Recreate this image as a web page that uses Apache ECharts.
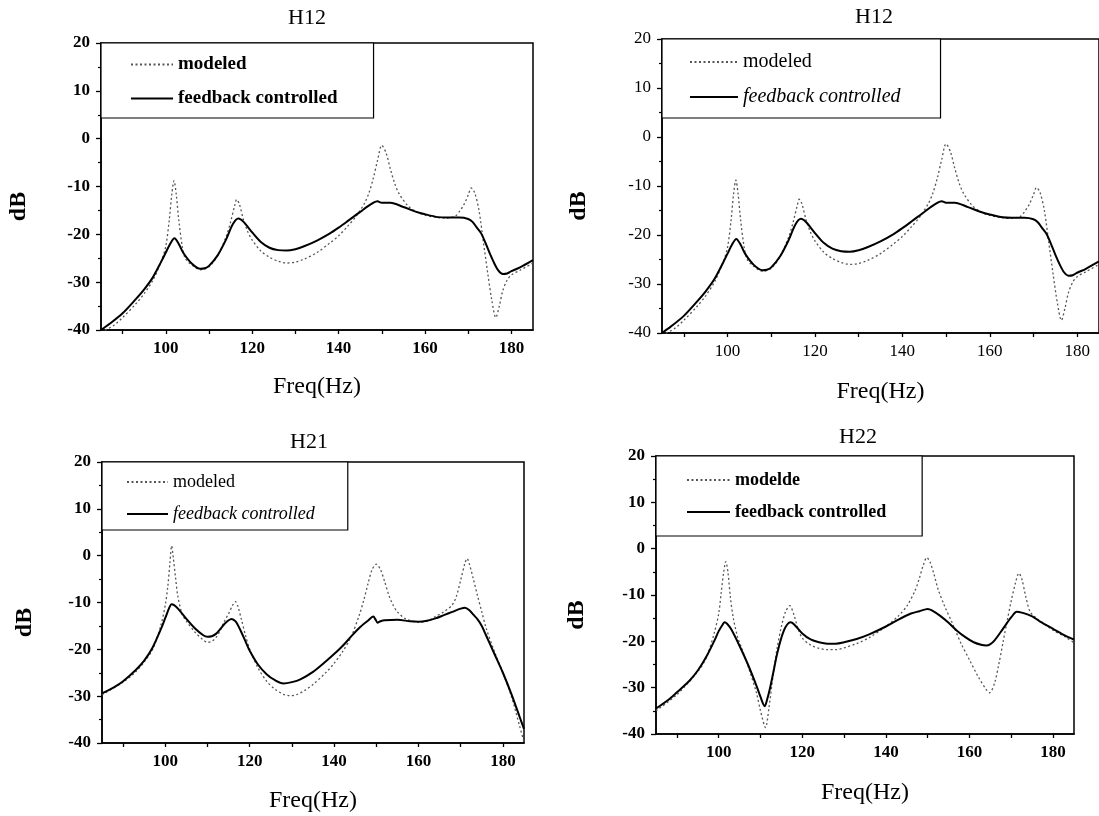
<!DOCTYPE html>
<html>
<head>
<meta charset="utf-8">
<script src="https://cdn.jsdelivr.net/npm/echarts@6/dist/echarts.min.js"></script>
<style>
  html, body { margin: 0; padding: 0; background: #fff; }
  #chart { width: 1099px; height: 816px; }
</style>
</head>
<body>
<div id="chart"></div>
<script>
// Frequency response magnitudes (dB) versus frequency (Hz), as [Hz, dB] pairs.
const xLabelTicks = [100, 120, 140, 160, 180];
const xTickMarks = [90, 100, 110, 120, 130, 140, 150, 160, 170, 180];
const panelTitles = ['H12', 'H12', 'H21', 'H22'];
const modeledNames = ['modeled', 'modeled', 'modeled', 'modelde'];
const feedbackName = 'feedback controlled';

const h12Feedback = [[85,-40],[87,-38.7],[90,-36.5],[93,-33.6],[95,-31.5],[97,-29],[99,-25.6],[100,-23.8],[101,-22],[102,-20.8],[103,-22],[104,-23.8],[106,-26.1],[108,-27.2],[109,-27.1],[110,-26.6],[112,-24.4],[114,-21],[115.5,-17.9],[116.8,-16.7],[118,-17.4],[120,-19.6],[122,-21.6],[124,-22.8],[126,-23.3],[128,-23.4],[130,-23.1],[132,-22.5],[135,-21.3],[138,-19.8],[140,-18.6],[142,-17.3],[145,-15.3],[147.5,-13.7],[149,-13.1],[150,-13.4],[152,-13.4],[155,-14.3],[158,-15.3],[160,-15.8],[163,-16.4],[165,-16.5],[168,-16.5],[170,-16.8],[171,-17.4],[172,-18.6],[173,-19.8],[174,-21.8],[175,-24],[176,-26],[177,-27.6],[178,-28.3],[179,-28.2],[180,-27.7],[182,-26.9],[185,-25.4]];

const h12Modeled = [[85,-40.5],[88,-39],[90,-37.4],[93,-34.6],[95,-32.4],[97,-29.6],[99,-25.5],[100,-22.5],[100.8,-17],[101.4,-11.5],[101.9,-8.8],[102.4,-11.5],[103,-17],[103.8,-22.5],[104.5,-25],[106,-26.4],[108,-27.4],[110,-26.8],[112,-24.4],[114,-20.4],[115,-17.4],[116,-13.8],[116.4,-12.7],[117,-13.6],[118,-17],[119,-19.5],[120,-21.2],[122,-23.5],[124,-24.8],[126,-25.6],[128,-26],[130,-25.8],[132,-25.2],[135,-23.8],[138,-21.8],[140,-20.3],[142,-18.4],[144,-16.3],[146,-13.5],[147,-11.4],[148,-8.4],[149,-4.6],[150,-1.4],[151,-3],[152,-6.4],[153,-9.4],[154,-11.5],[156,-14],[158,-15.3],[160,-16],[163,-16.5],[165,-16.6],[167,-16.2],[168,-15.2],[169,-13.8],[170,-11.8],[170.7,-10.3],[171.5,-11.3],[172.5,-15],[173.5,-21.5],[174.5,-28],[175.5,-34],[176.4,-37.4],[177.2,-35],[178,-31.8],[179,-29.6],[180,-28.5],[182,-27.5],[185,-26]];

const h21Feedback = [[85,-29.4],[88,-28],[90,-26.8],[93,-24.4],[95,-22.4],[97,-19.6],[99,-15.6],[100,-13.3],[101,-11],[101.5,-10.4],[102,-10.5],[103,-11.3],[105,-13.5],[107,-15.5],[109,-17],[110,-17.3],[111,-17.2],[112,-16.7],[113,-15.7],[114,-14.6],[115,-13.8],[115.7,-13.5],[116.5,-13.9],[117,-14.5],[118,-16.3],[119,-18.3],[120,-20.3],[122,-23.3],[124,-25.3],[126,-26.6],[128,-27.3],[130,-27],[132,-26.4],[135,-24.8],[138,-22.6],[140,-21],[142,-19.3],[144,-17.3],[146,-15.4],[148,-13.9],[149.3,-13],[149.8,-13.6],[150.3,-14.3],[151,-14],[152,-13.8],[155,-13.7],[158,-14],[160,-14.1],[162,-13.9],[164,-13.4],[166,-12.7],[168,-12],[170,-11.3],[171,-11.1],[172,-11.6],[173,-12.6],[174,-13.6],[175,-15],[176,-17],[178,-21],[180,-25],[182,-29.5],[184,-34.5],[185,-37]];

const h21Modeled = [[85,-29.7],[90,-27],[93,-24.8],[95,-22.7],[97,-20],[99,-14.7],[100,-10.5],[100.6,-6.5],[101.1,-1.5],[101.5,2.1],[101.9,-0.5],[102.4,-4.5],[103,-8.8],[104,-12.5],[105,-14],[107,-16.3],[109,-18],[110,-18.5],[111,-18.3],[112,-17.5],[113,-16],[114,-14],[115,-12.4],[116,-10.5],[116.6,-9.8],[117.2,-10.8],[118,-13.5],[119,-17],[120,-20],[122,-24],[124,-26.8],[126,-28.5],[128,-29.6],[129.5,-29.9],[131,-29.7],[133,-28.8],[135,-27.5],[138,-25],[140,-23],[142,-20.5],[144,-17.4],[146,-12.6],[147,-9.6],[148,-6.1],[149,-3],[150,-1.8],[151,-3],[152,-5.6],[153,-8.5],[154,-10.6],[155,-12],[157,-13.5],[160,-14.2],[162,-14],[164,-13],[166,-12],[168,-10.5],[169,-8.6],[170,-5.2],[171,-1.6],[171.5,-0.6],[172,-1.6],[173,-5],[174,-8.6],[175,-12],[176,-15.4],[178,-20.5],[180,-25],[182,-30],[184,-36.5],[185,-39.8]];

const h22Feedback = [[85,-34.5],[88,-32.6],[90,-31],[93,-28.5],[95,-26.3],[97,-23.4],[99,-19.8],[100,-17.8],[101,-16.3],[101.4,-15.9],[102,-16.2],[103,-17.4],[105,-21],[107,-25],[109,-29.5],[110,-32],[111,-34],[111.6,-32.5],[112.3,-30],[113,-27],[114,-22.6],[115,-19.2],[116,-16.9],[117.2,-15.9],[118,-16.3],[120,-18.3],[122,-19.6],[124,-20.2],[126,-20.5],[128,-20.5],[130,-20.2],[133,-19.5],[136,-18.5],[140,-16.8],[143,-15.3],[146,-14],[148,-13.5],[150,-13],[151,-13.3],[153,-14.5],[155,-16],[157,-17.7],[159,-19.1],[161,-20.2],[163,-20.8],[164,-20.9],[165,-20.6],[166,-19.8],[168,-17.3],[170,-14.8],[171.3,-13.6],[172.5,-13.8],[175,-14.6],[177,-15.8],[180,-17.3],[183,-18.8],[185,-19.6]];

const h22Modeled = [[85,-35],[90,-31.5],[95,-26.5],[97,-23.6],[99,-18],[100,-14],[100.6,-9.5],[101.2,-5],[101.7,-2.8],[102.2,-5],[102.8,-10.5],[103.5,-15],[104.5,-19],[105.5,-21.5],[107,-25.3],[109,-31],[110,-35],[111.2,-38.6],[112,-34.5],[113,-27.5],[114,-21.3],[115,-16.8],[116,-13.6],[117,-12.3],[118,-14.3],[119,-17.3],[120,-19.3],[122,-20.8],[124,-21.5],[126,-21.8],[128,-21.8],[130,-21.4],[133,-20.5],[136,-19.2],[140,-16.8],[143,-14.5],[145,-12.4],[147,-9],[148,-6.4],[149,-3.4],[149.8,-1.9],[150.6,-3],[151.5,-5.5],[152.5,-8.8],[154,-12.3],[156,-16.3],[158,-20.5],[160,-24],[162,-27.5],[164,-30.4],[164.8,-31.1],[166,-29],[167,-25],[168,-20.3],[169,-15.6],[170,-11.2],[171,-7.4],[171.8,-5.3],[172.5,-6.5],[173.5,-10.5],[174.5,-13.6],[176,-15],[178,-16.3],[180,-17.6],[183,-19.1],[185,-20.3]];

const modeledData = [h12Modeled, h12Modeled, h21Modeled, h22Modeled];
const feedbackData = [h12Feedback, h12Feedback, h21Feedback, h22Feedback];

// Layout and typography of the four panels
const SERIF = "'Liberation Serif', 'DejaVu Serif', serif";
const panels = [
  { grid: { left: 101, top: 43, width: 432, height: 287 }, title: { x: 307, y: 7 }, tickWeight: 'bold',
    xNameGap: 45, yNameGap: 70,
    legend: { padding: [12, 36, 10, 29], itemWidth: 42, itemGap: 15, fontSize: 19,
      modeledStyle: { fontWeight: 'bold' }, feedbackStyle: { fontWeight: 'bold' } } },
  { grid: { left: 662, top: 39, width: 440, height: 294 }, title: { x: 874, y: 6 }, tickWeight: 'normal',
    xNameGap: 47, yNameGap: 71,
    legend: { padding: [13, 40, 11, 27], itemWidth: 48, itemGap: 15, fontSize: 20,
      modeledStyle: { fontWeight: 'normal' }, feedbackStyle: { fontWeight: 'normal', fontStyle: 'italic' } } },
  { grid: { left: 102, top: 462, width: 422, height: 281 }, title: { x: 309, y: 431 }, tickWeight: 'bold',
    xNameGap: 46, yNameGap: 65,
    legend: { padding: [11, 33, 7, 24], itemWidth: 41, itemGap: 14, fontSize: 18,
      modeledStyle: { fontWeight: 'normal' }, feedbackStyle: { fontWeight: 'normal', fontStyle: 'italic' } } },
  { grid: { left: 656, top: 456, width: 418, height: 278 }, title: { x: 858, y: 426 }, tickWeight: 'bold',
    xNameGap: 47, yNameGap: 67,
    legend: { padding: [15, 36, 15, 30], itemWidth: 43, itemGap: 14, fontSize: 18,
      modeledStyle: { fontWeight: 'bold' }, feedbackStyle: { fontWeight: 'bold' } } }
];

const option = {
  backgroundColor: '#fff',
  animation: false,
  title: [], grid: [], xAxis: [], yAxis: [], legend: [], series: []
};

panels.forEach((p, i) => {
  option.title.push({
    text: panelTitles[i], left: p.title.x, top: p.title.y, textAlign: 'center', padding: 0,
    textStyle: { fontFamily: SERIF, fontSize: 22, fontWeight: 'normal', color: '#000' }
  });
  option.grid.push(Object.assign({
    show: true, borderColor: '#000', borderWidth: 1.5, backgroundColor: 'transparent', containLabel: false
  }, p.grid));
  option.xAxis.push({
    type: 'value', gridIndex: i, min: 85, max: 185,
    name: 'Freq(Hz)', nameLocation: 'middle', nameGap: p.xNameGap,
    nameTextStyle: { fontFamily: SERIF, fontSize: 24, color: '#000' },
    axisLine: { onZero: false, lineStyle: { color: '#000', width: 1.5 } },
    axisTick: { show: true, length: 4, customValues: xTickMarks, lineStyle: { color: '#000', width: 1.3 } },
    axisLabel: { customValues: xLabelTicks, margin: 10, fontFamily: SERIF, fontSize: 17,
      fontWeight: p.tickWeight, color: '#000' },
    splitLine: { show: false }
  });
  option.yAxis.push({
    type: 'value', gridIndex: i, min: -40, max: 20, interval: 10,
    name: 'dB', nameLocation: 'middle', nameGap: p.yNameGap,
    nameTextStyle: { fontFamily: SERIF, fontSize: 24, fontWeight: 'bold', color: '#000', padding: [0, 40, 0, 0] },
    axisLine: { lineStyle: { color: '#000', width: 1.5 } },
    axisTick: { show: true, length: 5, lineStyle: { color: '#000', width: 1.3 } },
    minorTick: { show: true, splitNumber: 2, length: 3, lineStyle: { color: '#000', width: 1.2 } },
    axisLabel: { margin: 11, fontFamily: SERIF, fontSize: 17, fontWeight: p.tickWeight, color: '#000' },
    splitLine: { show: false }
  });
  const lg = p.legend;
  option.legend.push({
    left: p.grid.left, top: p.grid.top, orient: 'vertical',
    borderColor: '#000', borderWidth: 1.2, backgroundColor: '#fff',
    padding: lg.padding, itemWidth: lg.itemWidth, itemHeight: 14, itemGap: lg.itemGap,
    selectedMode: false,
    itemStyle: { opacity: 0 },
    textStyle: { fontFamily: SERIF, fontSize: lg.fontSize, lineHeight: lg.fontSize, color: '#000' },
    data: [
      { name: modeledNames[i], textStyle: lg.modeledStyle },
      { name: feedbackName, textStyle: lg.feedbackStyle }
    ]
  });
  option.series.push({
    name: modeledNames[i], type: 'line', xAxisIndex: i, yAxisIndex: i,
    data: modeledData[i], symbol: 'none', smooth: 0.3,
    lineStyle: { color: '#555', width: 1.3, type: [2, 2.5] }, itemStyle: { color: '#555' },
    z: 2
  });
  option.series.push({
    name: feedbackName, type: 'line', xAxisIndex: i, yAxisIndex: i,
    data: feedbackData[i], symbol: 'none', smooth: 0.3,
    lineStyle: { color: '#000', width: 2 }, itemStyle: { color: '#000' },
    z: 3
  });
});

const chart = echarts.init(document.getElementById('chart'), null, { renderer: 'canvas' });
chart.setOption(option);
</script>
</body>
</html>
